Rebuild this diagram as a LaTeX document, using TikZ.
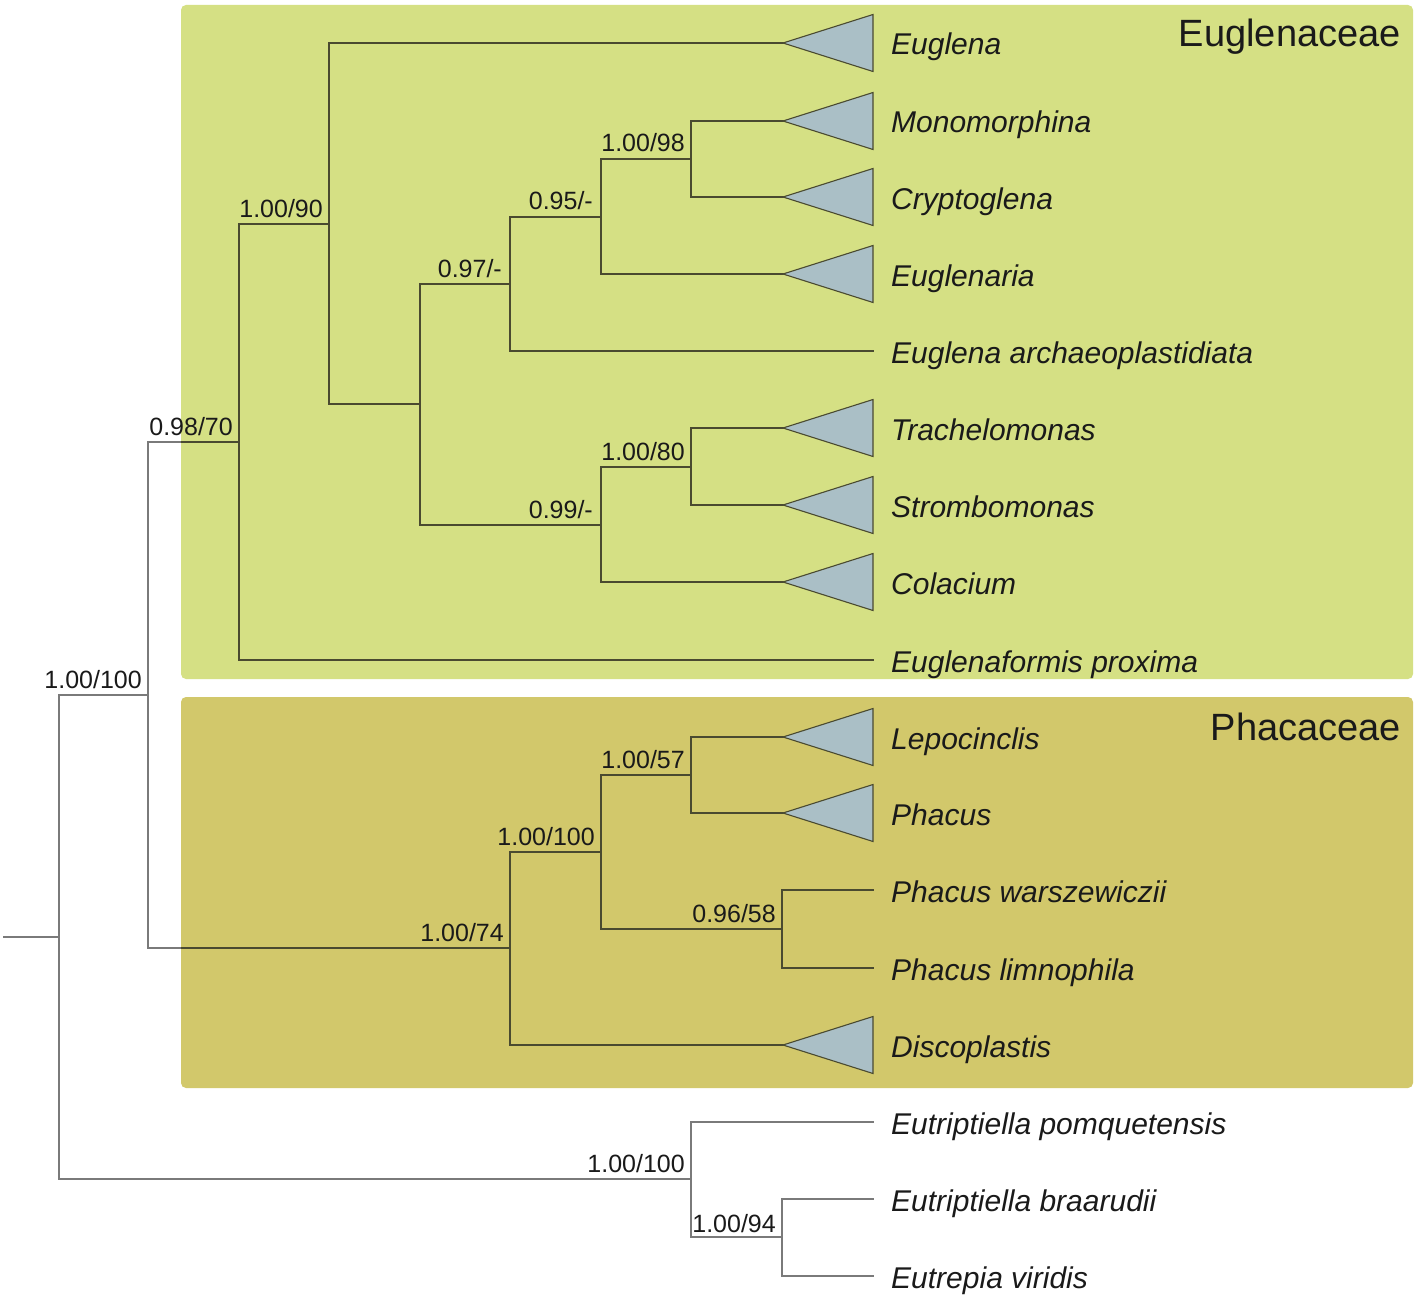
\documentclass[tikz,border=0pt]{standalone}
\usepackage{fontspec}
\setmainfont{Liberation Sans}
\definecolor{euglbox}{HTML}{D5E084}
\definecolor{phacbox}{HTML}{D2C86B}
\definecolor{trifill}{HTML}{AABFC6}
\definecolor{linein}{HTML}{4A4A30}
\definecolor{lineout}{HTML}{7A7A7A}
\definecolor{txt}{HTML}{1A1A1A}
\newcommand\phylotree[1]{%
  \draw[branch,#1] (root) -- (A);
  \draw[branch,#1] (A) |- (B);
  \draw[branch,#1] (A) |- (N);
  \draw[branch,#1] (B) |- (C);
  \draw[branch,#1] (B) |- (Ph);
  \draw[branch,#1] (C) |- (D);
  \draw[branch,#1] (C) |- (tEuglenaformis);
  \draw[branch,#1] (D) |- (tEuglena);
  \draw[branch,#1] (D) |- (E);
  \draw[branch,#1] (E) |- (F);
  \draw[branch,#1] (E) |- (G);
  \draw[branch,#1] (F) |- (H);
  \draw[branch,#1] (F) |- (tArch);
  \draw[branch,#1] (H) |- (I);
  \draw[branch,#1] (H) |- (tEuglenaria);
  \draw[branch,#1] (I) |- (tMono);
  \draw[branch,#1] (I) |- (tCrypto);
  \draw[branch,#1] (G) |- (J);
  \draw[branch,#1] (G) |- (tColacium);
  \draw[branch,#1] (J) |- (tTrach);
  \draw[branch,#1] (J) |- (tStromb);
  \draw[branch,#1] (Ph) |- (K);
  \draw[branch,#1] (Ph) |- (tDisco);
  \draw[branch,#1] (K) |- (L);
  \draw[branch,#1] (K) |- (M);
  \draw[branch,#1] (L) |- (tLepo);
  \draw[branch,#1] (L) |- (tPhacus);
  \draw[branch,#1] (M) |- (tWarsz);
  \draw[branch,#1] (M) |- (tLimno);
  \draw[branch,#1] (N) |- (tPomq);
  \draw[branch,#1] (N) |- (O);
  \draw[branch,#1] (O) |- (tBraar);
  \draw[branch,#1] (O) |- (tViridis);
}
\begin{document}
\begin{tikzpicture}[x=1pt,y=-1pt,
  branch/.style={line width=1.4pt,line cap=rect},
  clade/.style={line width=1.1pt,draw=linein,fill=trifill,line join=miter},
  taxon/.style={anchor=base west,inner sep=0pt,text=txt,font=\fontsize{30}{35}\selectfont\itshape},
  support/.style={anchor=base east,inner sep=0pt,text=txt,font=\fontsize{25}{29}\selectfont},
  family/.style={anchor=base east,inner sep=0pt,text=txt,font=\fontsize{38}{44}\selectfont},
  famboxE/.style={fill=euglbox,rounded corners=5pt},
  famboxP/.style={fill=phacbox,rounded corners=5pt}]
\useasboundingbox[fill=white] (0,0) rectangle (1418,1300);
% family boxes
\path[famboxE] (181,5) rectangle (1413,679);
\path[famboxP] (181,697) rectangle (1413,1088);
% internal nodes
\coordinate (root) at (4,937);
\coordinate (A) at (59,937);
\coordinate (B) at (148,695);
\coordinate (C) at (239,442);
\coordinate (D) at (329,224);
\coordinate (E) at (420,404);
\coordinate (F) at (510,284);
\coordinate (H) at (601,217);
\coordinate (I) at (691,159);
\coordinate (G) at (601,525);
\coordinate (J) at (691,467);
\coordinate (Ph) at (510,948);
\coordinate (K) at (601,852);
\coordinate (L) at (691,775);
\coordinate (M) at (782,929);
\coordinate (N) at (691,1179);
\coordinate (O) at (782,1237);
% tips
\coordinate (tEuglena) at (783,43);
\coordinate (tMono) at (783,121);
\coordinate (tCrypto) at (783,197);
\coordinate (tEuglenaria) at (783,274);
\coordinate (tArch) at (873,351);
\coordinate (tTrach) at (783,428);
\coordinate (tStromb) at (783,505);
\coordinate (tColacium) at (783,582);
\coordinate (tEuglenaformis) at (873,660);
\coordinate (tLepo) at (783,737);
\coordinate (tPhacus) at (783,813);
\coordinate (tWarsz) at (873,890);
\coordinate (tLimno) at (873,968);
\coordinate (tDisco) at (783,1045);
\coordinate (tPomq) at (873,1122);
\coordinate (tBraar) at (873,1199);
\coordinate (tViridis) at (873,1276);
% branches: grey outside boxes, olive inside
\phylotree{draw=lineout}
\begin{scope}
  \clip (181,5) rectangle (1413,679) (181,697) rectangle (1413,1088);
  \phylotree{draw=linein}
\end{scope}
% collapsed clades
\foreach \t in {tEuglena,tMono,tCrypto,tEuglenaria,tTrach,tStromb,tColacium,tLepo,tPhacus,tDisco}{
  \draw[clade] (\t) -- ([shift={(90,-28.5)}]\t) -- ([shift={(90,28.5)}]\t) -- cycle;
}
% taxon labels
\node[taxon] (lEuglena) at (891,55) {Euglena};
\node[taxon] (lMono) at (891,133) {Monomorphina};
\node[taxon] (lCrypto) at (891,209) {Cryptoglena};
\node[taxon] (lEuglenaria) at (891,286) {Euglenaria};
\node[taxon] (lArch) at (891,363) {Euglena archaeoplastidiata};
\node[taxon] (lTrach) at (891,440) {Trachelomonas};
\node[taxon] (lStromb) at (891,517) {Strombomonas};
\node[taxon] (lColacium) at (891,594) {Colacium};
\node[taxon] (lEuglenaformis) at (891,672) {Euglenaformis proxima};
\node[taxon] (lLepo) at (891,749) {Lepocinclis};
\node[taxon] (lPhacus) at (891,825) {Phacus};
\node[taxon] (lWarsz) at (891,902) {Phacus warszewiczii};
\node[taxon] (lLimno) at (891,980) {Phacus limnophila};
\node[taxon] (lDisco) at (891,1057) {Discoplastis};
\node[taxon] (lPomq) at (891,1134) {Eutriptiella pomquetensis};
\node[taxon] (lBraar) at (891,1211) {Eutriptiella braarudii};
\node[taxon] (lViridis) at (891,1288) {Eutrepia viridis};
% support values
\node[support] (sB) at ([shift={(-6,-7)}]B) {1.00/100};
\node[support] (sC) at ([shift={(-6,-7)}]C) {0.98/70};
\node[support] (sD) at ([shift={(-6,-7)}]D) {1.00/90};
\node[support] (sF) at ([shift={(-8,-7)}]F) {0.97/-};
\node[support] (sH) at ([shift={(-8,-7)}]H) {0.95/-};
\node[support] (sI) at ([shift={(-6,-7)}]I) {1.00/98};
\node[support] (sG) at ([shift={(-8,-7)}]G) {0.99/-};
\node[support] (sJ) at ([shift={(-6,-7)}]J) {1.00/80};
\node[support] (sPh) at ([shift={(-6,-7)}]Ph) {1.00/74};
\node[support] (sK) at ([shift={(-6,-7)}]K) {1.00/100};
\node[support] (sL) at ([shift={(-6,-7)}]L) {1.00/57};
\node[support] (sM) at ([shift={(-6,-7)}]M) {0.96/58};
\node[support] (sN) at ([shift={(-6,-7)}]N) {1.00/100};
\node[support] (sO) at ([shift={(-6,-5)}]O) {1.00/94};
% family names
\node[family] (famE) at (1401,47) {Euglenaceae};
\node[family] (famP) at (1401,740) {Phacaceae};
\end{tikzpicture}
\end{document}
